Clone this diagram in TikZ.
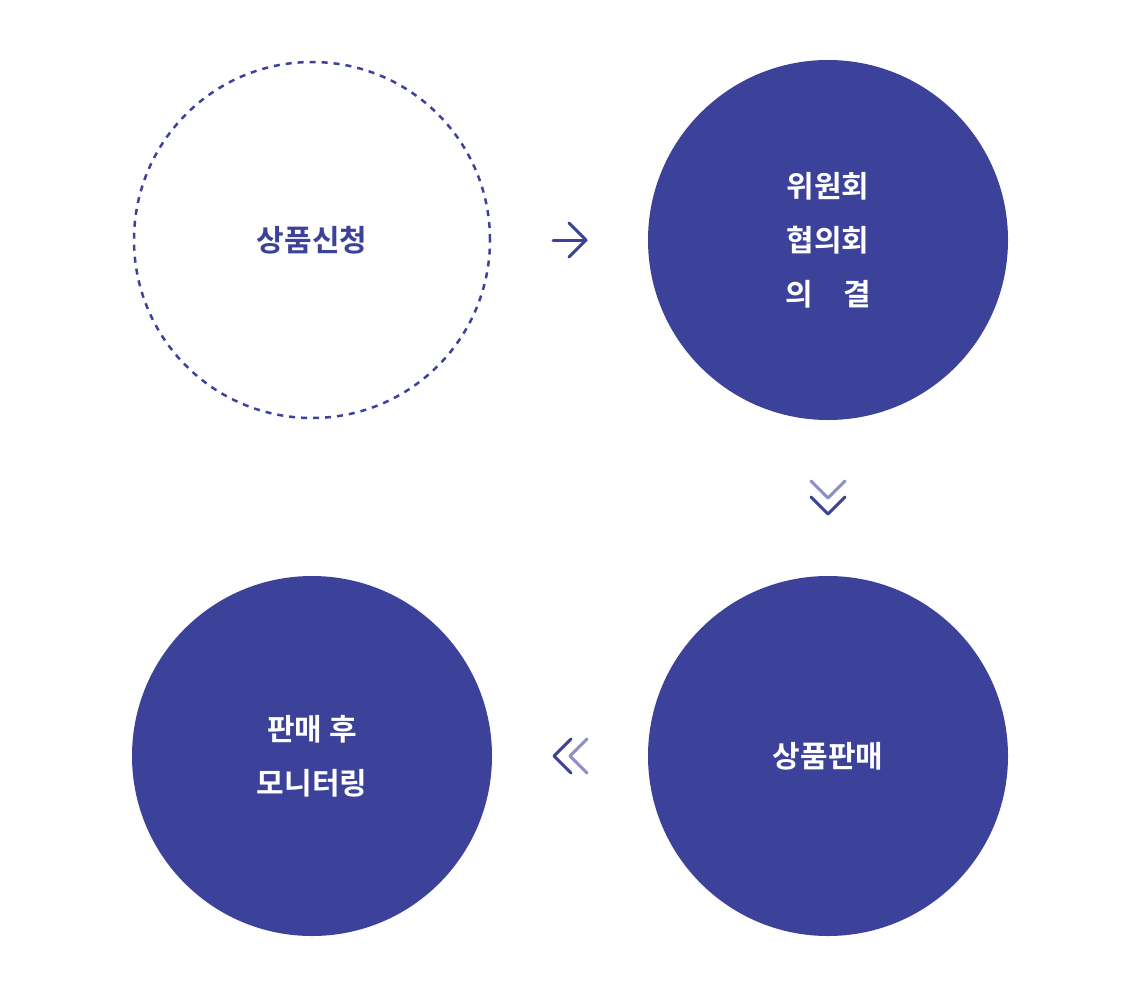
\documentclass[tikz,border=0pt]{standalone}
\usepackage{fontspec}
\newfontfamily\kr{Noto Sans CJK KR Bold}
\definecolor{navy}{HTML}{3C4199}
\definecolor{lnavy}{HTML}{8C8FC4}
\begin{document}
\begin{tikzpicture}[x=1pt,y=-1pt,
  fillc/.style={circle,fill=navy,minimum size=360pt,inner sep=0pt},
  lbl/.style={font=\kr\fontsize{30}{54}\selectfont,align=center},
  arr/.style={line width=3pt,line cap=round,line join=round}]
\useasboundingbox (0,0) rectangle (1140,996);
\node[circle,draw=navy,dashed,line width=2.5pt,dash pattern=on 6pt off 6pt,minimum size=356pt,inner sep=0pt] (a) at (312,240) {};
\node[lbl,text=navy] at (a) {상품신청};
\node[fillc] (b) at (828,240) {};
\node[lbl,text=white] at (b) {위원회\\협의회\\의\hspace{1em}결};
\node[fillc] (c) at (828,756) {};
\node[lbl,text=white] at (c) {상품판매};
\node[fillc] (d) at (312,756) {};
\node[lbl,text=white] at (d) {판매 후\\모니터링};
% arrow right
\coordinate (r1) at (553,240); \coordinate (r2) at (586,240);
\draw[arr,navy] (r1) -- (r2);
\draw[arr,navy] (569,223) -- (r2) -- (569,257);
% double down
\coordinate (d1) at (828,498); \coordinate (d2) at (828,514);
\draw[arr,lnavy] (811,481) -- (d1) -- (845,481);
\draw[arr,navy] (811,497) -- (d2) -- (845,497);
% double left
\coordinate (l1) at (554,756); \coordinate (l2) at (570,756);
\draw[arr,navy] (571,739) -- (l1) -- (571,773);
\draw[arr,lnavy] (587,739) -- (l2) -- (587,773);
\end{tikzpicture}
\end{document}
